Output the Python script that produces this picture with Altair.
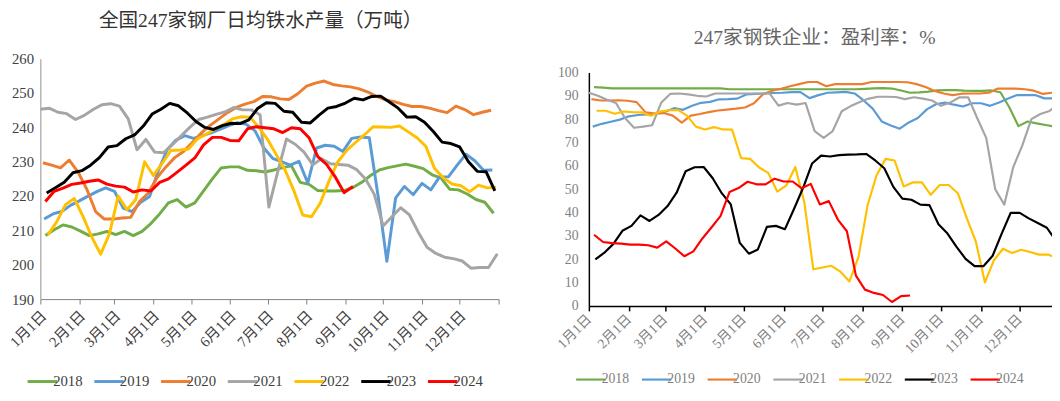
import altair as alt
import pandas as pd

years = ["2018", "2019", "2020", "2021", "2022", "2023", "2024"]
colors = ["#70AD47", "#5B9BD5", "#ED7D31", "#A5A5A5", "#FFC000", "#000000", "#FF0000"]
first_day = [4, 3, 2, 0, 6, 5, 4]  # day-of-year of first weekly observation
month_days = [0, 31, 59, 90, 120, 151, 181, 212, 243, 273, 304, 334]
month_labels = ["1月1日", "2月1日", "3月1日", "4月1日", "5月1日", "6月1日",
                "7月1日", "8月1日", "9月1日", "10月1日", "11月1日", "12月1日"]

# 全国247家钢厂日均铁水产量（万吨），weekly
iron_2018 = [208.5, 210.2, 211.6, 211.0, 209.8, 208.5, 209.0, 209.7, 208.8, 209.7,
             208.5, 209.7, 212.0, 214.8, 218.0, 219.0, 216.8, 218.0, 221.5, 225.0,
             228.2, 228.5, 228.5, 227.5, 227.4, 227.0, 227.6, 228.3, 228.8, 224.0,
             223.4, 221.6, 221.5, 221.5, 221.6, 222.5, 224.0, 226.0, 227.6, 228.3,
             228.8, 229.3, 228.7, 228.0, 226.2, 225.3, 222.0, 221.8, 220.6, 219.0,
             218.2, 215.0]
iron_2019 = [213.3, 214.8, 215.5, 217.3, 218.6, 220.0, 221.3, 222.4, 221.4, 216.5,
             215.5, 218.2, 219.9, 227.5, 233.5, 236.3, 237.6, 236.8, 237.6, 238.4,
             239.4, 240.5, 241.4, 240.9, 239.0, 234.0, 231.0, 230.0, 229.0, 230.1,
             223.8, 234.0, 234.8, 234.5, 233.0, 236.8, 237.2, 237.0, 220.0, 201.0,
             219.5, 222.8, 220.4, 223.7, 221.8, 225.6, 225.6, 229.0, 232.2, 230.3,
             227.5, 227.6]
iron_2020 = [229.7, 229.0, 228.2, 230.5, 227.0, 222.0, 215.5, 213.3, 213.3, 213.6,
             213.8, 218.4, 220.9, 225.4, 228.5, 231.2, 233.0, 235.6, 238.3, 240.5,
             242.4, 244.3, 245.8, 246.8, 247.5, 249.0, 248.9, 248.3, 248.1, 249.8,
             252.0, 252.9, 253.5, 252.5, 252.1, 251.8, 251.2, 250.3, 249.0, 248.0,
             247.5, 246.7, 246.1, 246.1, 245.6, 244.9, 244.3, 246.2, 245.2, 243.7,
             244.4, 245.0]
iron_2021 = [245.3, 245.6, 244.4, 244.0, 242.3, 243.5, 245.2, 246.6, 246.9, 246.2,
             242.5, 233.5, 236.5, 232.8, 232.6, 234.9, 237.5, 240.0, 242.3, 243.0,
             243.8, 244.5, 245.8, 245.1, 245.1, 243.7, 216.8, 227.0, 236.6, 235.1,
             232.8, 229.1, 230.9, 229.4, 229.2, 229.0, 227.7, 225.0, 220.5, 211.3,
             214.0, 216.6, 214.5, 209.5, 205.1, 203.3, 202.2, 201.8, 201.1, 199.0,
             199.2, 199.2, 203.2]
iron_2022 = [208.7, 212.5, 217.5, 219.3, 214.0, 208.0, 203.1, 209.0, 220.0, 216.0,
             219.0, 230.0, 226.0, 229.5, 233.3, 233.4, 233.7, 236.6, 238.0, 239.5,
             240.8, 242.5, 243.1, 243.0, 240.0, 236.5, 232.0, 227.5, 221.5, 214.5,
             214.0, 218.0, 224.5, 230.0, 233.3, 235.6, 237.8, 240.2, 240.1, 240.0,
             240.4, 238.7, 237.0, 234.5, 228.0, 225.3, 223.5, 223.0, 221.3, 223.2,
             222.4, 222.6]
iron_2023 = [220.9, 222.4, 224.0, 226.8, 227.4, 229.0, 231.2, 234.3, 234.7, 236.7,
             237.8, 240.4, 243.9, 245.3, 247.0, 246.3, 244.2, 241.7, 240.0, 239.4,
             240.5, 241.2, 241.1, 242.2, 245.5, 247.2, 247.0, 244.7, 244.4, 241.5,
             241.3, 243.6, 245.6, 246.1, 247.1, 248.5, 248.0, 249.0, 249.1, 247.4,
             245.6, 243.0, 243.1, 241.5, 238.8, 235.7, 235.3, 234.3, 230.0, 227.2,
             227.1, 221.5]
iron_2024 = [218.4, 221.4, 222.3, 223.4, 223.8, 224.3, 224.7, 223.5, 222.9, 222.6,
             221.2, 221.8, 221.5, 224.0, 225.0, 227.0, 229.0, 231.1, 234.9, 237.1,
             237.1, 236.2, 236.1, 239.6, 240.2, 239.9, 239.6, 238.5, 239.9, 239.6,
             237.0, 231.5, 229.2, 225.5, 221.0, 222.8]

# 247家钢铁企业：盈利率：%，weekly
profit_2018 = [93.7, 93.5, 93.2, 93.2, 93.2, 93.2, 93.2, 93.2, 93.2, 93.2,
               93.2, 93.2, 93.2, 93.2, 93.2, 92.8, 92.8, 92.8, 92.8, 92.8,
               92.8, 92.8, 92.8, 92.8, 92.8, 92.8, 92.8, 92.8, 92.8, 92.8,
               93.0, 93.2, 93.3, 93.1, 92.3, 91.3, 91.5, 91.8, 92.3, 92.4,
               92.4, 92.2, 92.1, 92.1, 92.3, 91.5, 85.0, 77.0, 79.0, 78.2,
               77.5, 76.8]
profit_2019 = [76.8, 78.0, 78.9, 79.8, 81.2, 81.8, 82.0, 82.4, 83.2, 84.7,
               84.0, 85.7, 87.0, 87.4, 88.5, 88.6, 88.8, 90.6, 90.8, 91.0,
               91.2, 91.3, 91.6, 91.6, 89.0, 90.3, 91.3, 91.5, 91.7, 91.0,
               88.0, 84.5, 79.0, 77.3, 75.9, 78.6, 80.5, 84.2, 86.4, 87.1,
               86.2, 85.4, 86.8, 86.8, 85.7, 87.1, 88.8, 90.3, 90.3, 90.3,
               88.9, 88.9]
profit_2020 = [88.6, 88.0, 88.0, 88.1, 87.9, 87.3, 82.9, 82.4, 82.6, 81.5,
               78.5, 81.5, 82.2, 83.0, 83.7, 84.1, 84.5, 85.0, 86.8, 90.7,
               92.2, 93.0, 94.1, 95.0, 95.9, 95.9, 94.1, 95.0, 95.0, 95.0,
               95.0, 95.9, 95.9, 95.9, 95.9, 95.8, 95.0, 93.8, 92.1, 91.0,
               90.3, 90.9, 91.0, 91.0, 91.3, 93.1, 93.1, 93.1, 92.8, 92.2,
               90.8, 91.3]
profit_2021 = [91.3, 90.0, 88.3, 86.9, 80.5, 76.3, 76.8, 77.4, 87.0, 90.8,
               91.0, 90.6, 90.0, 89.7, 91.0, 91.0, 91.0, 91.0, 91.0, 91.0,
               91.0, 85.8, 86.9, 86.2, 86.9, 74.9, 72.0, 74.9, 83.4, 85.6,
               87.3, 88.8, 89.6, 89.6, 89.5, 88.6, 89.4, 88.8, 88.0, 85.7,
               87.1, 89.3, 89.4, 80.5, 72.0, 50.0, 43.4, 59.5, 68.8, 80.0,
               82.2, 83.5, 86.5]
profit_2022 = [83.6, 83.6, 82.3, 83.3, 83.0, 82.9, 81.5, 83.2, 83.8, 84.0,
               81.5, 76.8, 75.6, 76.6, 75.6, 75.5, 63.3, 63.0, 59.3, 57.0,
               49.0, 51.5, 59.5, 44.5, 15.7, 16.5, 17.2, 14.7, 10.5, 21.0,
               43.0, 56.0, 63.0, 62.3, 51.2, 52.9, 53.0, 47.6, 51.8, 51.8,
               48.3, 37.5, 27.5, 10.1, 19.6, 24.5, 22.7, 24.1, 23.1, 22.0,
               22.0, 20.5]
profit_2023 = [20.0, 22.8, 26.6, 32.2, 34.3, 38.8, 36.4, 39.0, 42.8, 48.5,
               57.7, 59.4, 59.5, 54.7, 48.3, 43.5, 27.0, 22.4, 24.2, 33.9,
               34.3, 32.9, 41.5, 50.5, 61.0, 64.4, 64.0, 64.6, 64.8, 64.9,
               65.1, 62.3, 59.0, 51.0, 46.0, 45.5, 43.4, 43.2, 35.0, 31.0,
               25.3, 20.2, 17.1, 17.1, 21.5, 31.0, 39.9, 39.9, 37.5, 35.5,
               33.5, 28.0]
profit_2024 = [30.5, 27.4, 26.9, 26.7, 26.3, 26.3, 26.0, 25.0, 27.7, 24.6,
               21.3, 23.4, 28.9, 33.6, 38.5, 48.8, 50.5, 53.2, 52.1, 52.1,
               54.5, 53.3, 53.3, 50.4, 52.3, 43.5, 44.9, 37.0, 32.0, 13.0,
               7.0, 5.6, 4.7, 1.7, 4.2, 4.5]

iron_series = [iron_2018, iron_2019, iron_2020, iron_2021, iron_2022, iron_2023, iron_2024]
profit_series = [profit_2018, profit_2019, profit_2020, profit_2021, profit_2022, profit_2023, profit_2024]
left_widths = [3, 3, 3, 3, 3, 3, 2.2]
right_widths = [2.2, 2.2, 2.2, 2.2, 2.2, 3.5, 3.5]


def to_frame(series):
    rows = []
    for year, d0, vals in zip(years, first_day, series):
        for i, v in enumerate(vals):
            rows.append({"year": year, "day": d0 + 7 * i, "value": v})
    return pd.DataFrame(rows)


df_left = to_frame(iron_series)
df_right = to_frame(profit_series)

FONT = "'Liberation Serif', 'Times New Roman', 'DejaVu Serif', serif, 'Noto Sans CJK SC'"
LINE_SYMBOL = "M-2,0H2"  # wide horizontal line symbol for the legend
days_js = "[" + ",".join(str(d) for d in month_days) + "]"
labels_js = "[" + ",".join("'" + s + "'" for s in month_labels) + "]"
label_expr = f"indexof({days_js}, datum.value) >= 0 ? {labels_js}[indexof({days_js}, datum.value)] : ''"

left = alt.Chart(df_left).mark_line(clip=True, strokeJoin="round").encode(
    x=alt.X("day:Q", scale=alt.Scale(domain=[0, 365], nice=False, zero=False),
            axis=alt.Axis(values=month_days + [365], labelExpr=label_expr, labelAngle=-45,
                          labelAlign="right", labelBaseline="middle", labelFlush=False,
                          labelOverlap=False, labelFont=FONT, labelFontSize=15,
                          labelColor="#404040", labelPadding=9, labelOffset=3, tickSize=5,
                          tickColor="#808080", domainColor="#808080", grid=False, title=None)),
    y=alt.Y("value:Q", scale=alt.Scale(domain=[190, 260], nice=False, zero=False),
            axis=alt.Axis(values=list(range(190, 261, 10)), ticks=False, grid=False,
                          domainColor="#909090", labelFont=FONT, labelFontSize=15,
                          labelColor="#404040", labelPadding=7, title=None)),
    color=alt.Color("year:N", scale=alt.Scale(domain=years, range=colors),
                    legend=alt.Legend(orient="none", legendX=-7, legendY=320,
                                      direction="horizontal", columns=7, title=None,
                                      symbolType=LINE_SYMBOL, symbolSize=225,
                                      symbolStrokeWidth=3, labelFont=FONT,
                                      labelFontSize=15, labelColor="#404040",
                                      labelOffset=2, columnPadding=6, padding=0)),
    strokeWidth=alt.StrokeWidth("year:O", scale=alt.Scale(domain=years, range=left_widths),
                                legend=None),
).properties(
    width=467, height=245,
    title=alt.TitleParams("全国247家钢厂日均铁水产量（万吨）", font=FONT, fontSize=20,
                          fontWeight="normal", color="#333333", anchor="middle",
                          frame="group", offset=21, dx=-9),
)

right = alt.Chart(df_right).mark_line(clip=True, strokeJoin="round").encode(
    x=alt.X("day:Q", scale=alt.Scale(domain=[0, 359], nice=False, zero=False),
            axis=alt.Axis(values=month_days, labelExpr=label_expr, labelAngle=-45,
                          labelAlign="right", labelBaseline="middle", labelFlush=False,
                          labelOverlap=False, labelFont=FONT, labelFontSize=14,
                          labelColor="#808080", labelPadding=6, tickSize=5,
                          tickColor="#000000", domainColor="#000000", domainWidth=1.5,
                          tickWidth=1.5, grid=False, title=None)),
    y=alt.Y("value:Q", scale=alt.Scale(domain=[0, 100], range=[252, 14], nice=False, zero=False),
            axis=alt.Axis(values=list(range(0, 101, 10)), ticks=False, grid=False,
                          domainColor="#000000", domainWidth=1.5, labelFont=FONT,
                          labelFontSize=14, labelColor="#808080", labelPadding=11,
                          title=None)),
    color=alt.Color("year:N", scale=alt.Scale(domain=years, range=colors),
                    legend=alt.Legend(orient="none", legendX=-7, legendY=318,
                                      direction="horizontal", columns=7, title=None,
                                      symbolType=LINE_SYMBOL, symbolSize=225,
                                      symbolStrokeWidth=3, labelFont=FONT,
                                      labelFontSize=14, labelColor="#808080",
                                      labelOffset=2, columnPadding=8, padding=0)),
    strokeWidth=alt.StrokeWidth("year:O", scale=alt.Scale(domain=years, range=right_widths),
                                legend=None),
).properties(
    width=472, height=252,
    title=alt.TitleParams("247家钢铁企业：盈利率：%", font=FONT, fontSize=20,
                          fontWeight="normal", color="#666666", anchor="middle",
                          frame="group", offset=21, dx=-6, dy=10),
)

chart = alt.hconcat(left, right, spacing=48).resolve_scale(
    color="independent", strokeWidth="independent"
).resolve_legend(
    color="independent", strokeWidth="independent"
).properties(
    padding={"left": -1, "top": 0, "right": 0, "bottom": 0}
).configure_view(stroke=None)

chart.save("out.html", embed_options={"renderer": "svg", "actions": False})
